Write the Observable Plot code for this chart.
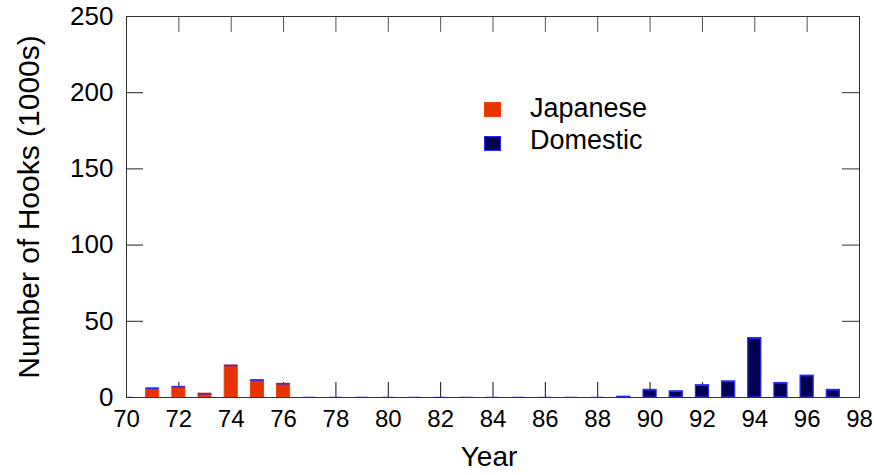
<!DOCTYPE html>
<html>
<head>
<meta charset="utf-8">
<script src="https://cdn.jsdelivr.net/npm/d3@7"></script>
<script src="https://cdn.jsdelivr.net/npm/@observablehq/plot@0.6"></script>
<style>
  html, body { margin: 0; padding: 0; background: #fff; }
  #wrap { position: relative; width: 874px; height: 475px; font-family: "Liberation Sans", Arial, sans-serif; }
  .leg { position: absolute; left: 484px; font-size: 27px; color: #000; }
  .leg .sw { position: absolute; left: 0; width: 15px; height: 13px; }
  .leg .lb { position: absolute; left: 46px; white-space: nowrap; line-height: 1; }
</style>
</head>
<body>
<div id="wrap"></div>
<script>
const years = [70,71,72,73,74,75,76,77,78,79,80,81,82,83,84,85,86,87,88,89,90,91,92,93,94,95,96,97];
const japanese = [0,6,7,2.5,21,11.4,9,0,0,0,0,0,0,0,0,0,0,0,0,0,0,0,0,0,0,0,0,0];
const domestic = [0,0,0,0,0,0,0,0,0,0,0,0,0,0,0,0,0,0,0,0.5,5,4,8,10.5,39,9.5,14.3,5];
const xTicks = [70,72,74,76,78,80,82,84,86,88,90,92,94,96,98];
const yTicks = [0,50,100,150,200,250];
const yInner = [50,100,150,200];
const seriesNames = ["Japanese", "Domestic"];
const seriesFill = ["#e83200", "#000050"];
const seriesStroke = ["#f04010", "#2a2aff"];

const data = years.map((y, i) => ({year: y, jap: japanese[i], dom: domestic[i]}));
const half = 0.25;

const W = 874, H = 475;
const mL = 126, mR = 15, mT = 16, mB = 78;
const fw = W - mL - mR, fh = H - mT - mB;

const chart = Plot.plot({
  width: W, height: H,
  marginLeft: mL, marginRight: mR, marginTop: mT, marginBottom: mB,
  style: {fontFamily: '"Liberation Sans", Arial, sans-serif', color: "#000", background: "#fff"},
  x: {domain: [70, 98], axis: null},
  y: {domain: [0, 250], axis: null},
  marks: [
    // inward ticks
    Plot.tickX(xTicks, {x: d => d, insetTop: fh - 15, stroke: "#111", strokeWidth: 1}),
    Plot.tickX(xTicks, {x: d => d, insetBottom: fh - 16, stroke: "#555", strokeWidth: 1}),
    Plot.tickY(yInner, {y: d => d, insetRight: fw - 17, stroke: "#222", strokeWidth: 1}),
    Plot.tickY(yInner, {y: d => d, insetLeft: fw - 17, stroke: "#333", strokeWidth: 1}),
    // bars
    Plot.rectY(data.filter(d => d.jap > 0), {
      x1: d => d.year - half, x2: d => d.year + half,
      y1: 0, y2: d => d.jap,
      fill: seriesFill[0], stroke: seriesStroke[0], strokeWidth: 1, clip: true
    }),
    Plot.rectY(data.filter(d => d.dom > 0), {
      x1: d => d.year - half, x2: d => d.year + half,
      y1: d => d.jap, y2: d => d.jap + d.dom,
      fill: seriesFill[1], stroke: seriesStroke[1], strokeWidth: 1.2, clip: true
    }),
    Plot.ruleY(data, {
      x1: d => d.year - half, x2: d => d.year + half,
      y: d => d.jap + d.dom,
      stroke: seriesStroke[1], strokeWidth: 1.5, clip: true
    }),
    Plot.frame({stroke: "#333", strokeWidth: 1}),
    // axes
    Plot.axisX(xTicks, {anchor: "bottom", tickSize: 0, tickPadding: 12, fontSize: 24, label: null}),
    Plot.axisY(yTicks, {anchor: "left", tickSize: 0, tickPadding: 13, fontSize: 26, label: null}),
    Plot.text(["Year"], {frameAnchor: "bottom", dy: 60, dx: -4, fontSize: 28, lineAnchor: "middle", textAnchor: "middle", fill: "#000"}),
    Plot.text(["Number of Hooks (1000s)"], {frameAnchor: "left", dx: -97, rotate: -90, fontSize: 30, lineAnchor: "middle", textAnchor: "middle", fill: "#000"})
  ]
});

const wrap = document.getElementById("wrap");
wrap.appendChild(chart);

const legTops = [102, 136];
const textTops = [95, 127];
seriesNames.forEach((name, i) => {
  const sw = document.createElement("div");
  sw.className = "leg";
  sw.style.top = legTops[i] + "px";
  sw.innerHTML = `<div class="sw" style="background:${seriesFill[i]};border:1px solid ${seriesStroke[i]}"></div>`;
  wrap.appendChild(sw);
  const lb = document.createElement("div");
  lb.className = "leg";
  lb.style.top = textTops[i] + "px";
  lb.innerHTML = `<div class="lb">${name}</div>`;
  wrap.appendChild(lb);
});
</script>
</body>
</html>
